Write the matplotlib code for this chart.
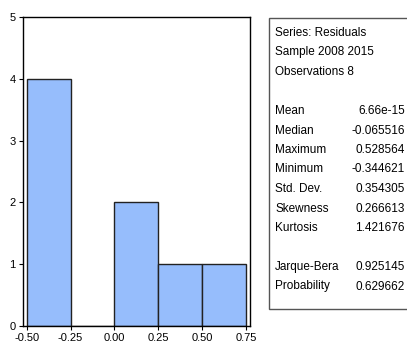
import matplotlib
matplotlib.use('Agg')
import matplotlib.pyplot as plt
from matplotlib.patches import Rectangle

# histogram of residuals
bin_edges = [-0.50, -0.25, 0.00, 0.25, 0.50, 0.75]
counts = [4, 0, 2, 1, 1]
x_ticks = [-0.50, -0.25, 0.00, 0.25, 0.50, 0.75]
x_tick_labels = ['-0.50', '-0.25', '0.00', '0.25', '0.50', '0.75']
y_ticks = [0, 1, 2, 3, 4, 5]

# summary statistics box
header_lines = ['Series: Residuals', 'Sample 2008 2015', 'Observations 8']
stat_names = ['Mean', 'Median', 'Maximum', 'Minimum', 'Std. Dev.',
              'Skewness', 'Kurtosis']
stat_values = ['6.66e-15', '-0.065516', '0.528564', '-0.344621',
               '0.354305', '0.266613', '1.421676']
test_names = ['Jarque-Bera', 'Probability']
test_values = ['0.925145', '0.629662']

plt.rcParams['font.family'] = ['Liberation Sans', 'DejaVu Sans']

W, H = 407, 348
fig = plt.figure(figsize=(W / 100, H / 100), dpi=100)

# axes placement in pixels: left 22.5, right 249.5, top 17, bottom 326
ax = fig.add_axes([22.5 / W, (H - 326) / H, (249.5 - 22.5) / W, (326 - 17) / H])
widths = [b - a for a, b in zip(bin_edges[:-1], bin_edges[1:])]
ax.bar(bin_edges[:-1], counts, width=widths, align='edge',
       color='#96bdfc', edgecolor='#222222', linewidth=1.0)
ax.set_xlim(-0.524, 0.77)
ax.set_ylim(0, 5)
ax.set_xticks(x_ticks)
ax.set_xticklabels(x_tick_labels)
ax.set_yticks(y_ticks)
ax.tick_params(direction='out', length=3, width=0.8, labelsize=8, pad=2,
               colors='black')
for sp in ax.spines.values():
    sp.set_linewidth(1.0)
    sp.set_color('black')

# stats box, runs past the right edge of the image
box = Rectangle((269 / W, (H - 309) / H), 0.5, (309 - 18) / H,
                transform=fig.transFigure, facecolor='white',
                edgecolor='#555555', linewidth=1.0)
fig.patches.append(box)

rows = [(t, '') for t in header_lines] + [('', '')]
rows += list(zip(stat_names, stat_values)) + [('', '')]
rows += list(zip(test_names, test_values))

for i, (name, val) in enumerate(rows):
    y = (H - (33 + i * 19.5)) / H
    if name:
        fig.text(275 / W, y, name, fontsize=8.5, va='center', ha='left')
    if val:
        fig.text(405 / W, y, val, fontsize=8.5, va='center', ha='right')

fig.savefig('out.png', dpi=100)
